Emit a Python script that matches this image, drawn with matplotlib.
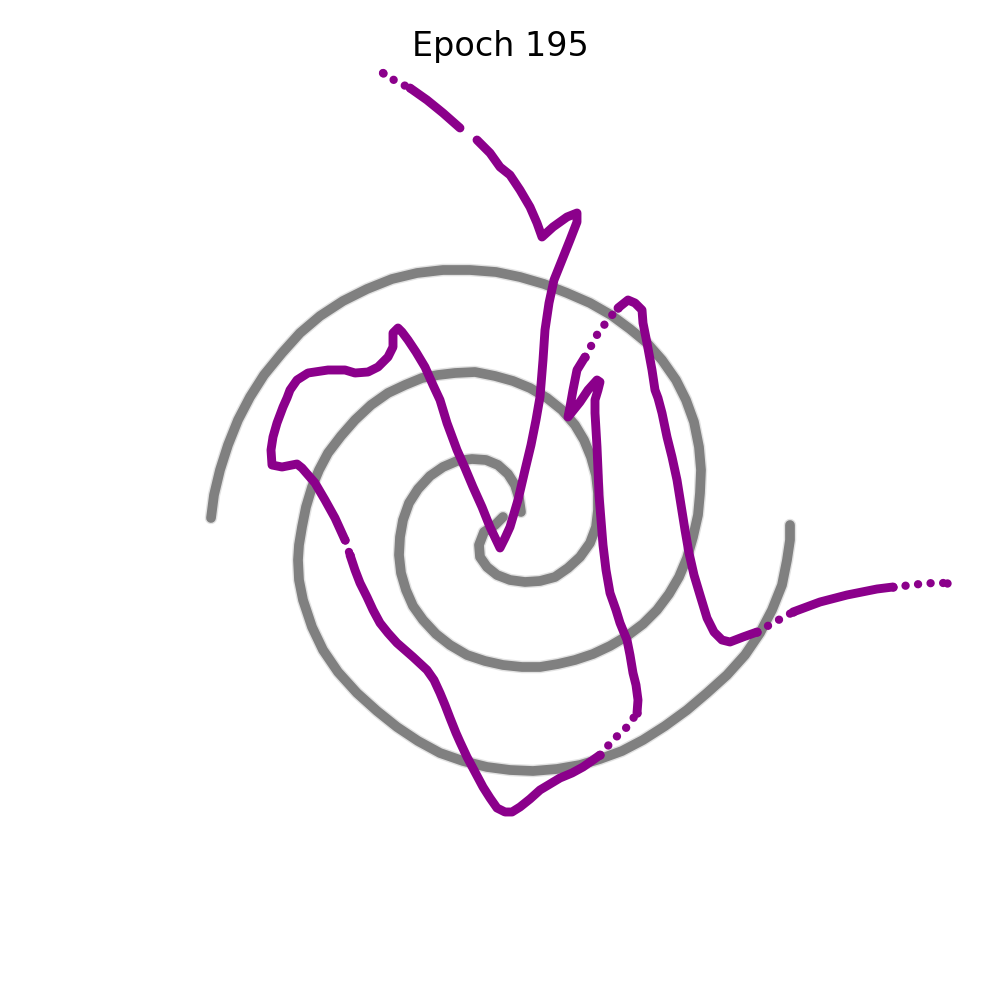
import matplotlib
matplotlib.use("Agg")
import matplotlib.pyplot as plt

# Coordinates (image-like units, y downward)
arm1_x = [503, 495, 484, 479, 480, 487, 497, 510, 525, 540, 555, 568, 580, 590, 596, 598, 598, 596, 591, 584,
          575, 562, 547, 530, 513, 495, 475, 455, 438, 422, 405, 388, 371, 355, 341, 328, 319, 312, 306, 302,
          299, 298, 299, 303, 312, 323, 338, 357, 377, 397, 418, 440, 463, 487, 510, 533, 557, 580, 600, 622,
          643, 665, 687, 707, 727, 745, 760, 772, 782, 787, 790, 790]
arm1_y = [517, 525, 532, 545, 557, 567, 575, 580, 582, 581, 577, 568, 557, 543, 527, 510, 493, 475, 457, 440,
          425, 410, 398, 388, 381, 376, 372, 373, 375, 378, 385, 393, 405, 420, 436, 453, 470, 487, 507, 527,
          545, 560, 580, 600, 627, 650, 672, 693, 711, 727, 741, 753, 761, 767, 770, 771, 769, 765, 759, 751,
          740, 726, 710, 693, 675, 655, 633, 610, 585, 560, 540, 525]

arm2_x = [521, 519, 515, 508, 498, 486, 472, 457, 443, 430, 418, 409, 403, 400, 399, 401, 406, 413, 423, 436,
          450, 467, 485, 503, 522, 540, 558, 575, 593, 610, 627, 643, 657, 669, 679, 687, 693, 698, 700, 701,
          699, 694, 686, 676, 662, 647, 630, 611, 590, 567, 544, 520, 496, 470, 443, 417, 392, 367, 343, 320,
          300, 282, 264, 250, 238, 228, 220, 214, 211]
arm2_y = [512, 498, 485, 474, 465, 460, 459, 461, 467, 476, 489, 503, 520, 537, 555, 573, 590, 606, 620, 634,
          645, 655, 661, 665, 667, 667, 664, 660, 654, 646, 636, 624, 610, 594, 577, 558, 537, 515, 493, 470,
          447, 422, 400, 380, 360, 343, 329, 315, 303, 293, 284, 277, 272, 270, 270, 273, 279, 289, 301, 316,
          333, 353, 375, 397, 420, 445, 470, 495, 518]

pred_x = [383, 397, 410, 427, 443, 460, 477, 490, 500, 510, 520, 530, 537, 542, 553, 567, 577, 577, 570, 562,
          554, 549, 545, 543, 540, 536, 531, 525, 518, 510, 505, 500, 490, 482, 473, 465, 457, 447, 440, 433,
          425, 416, 408, 402, 398, 393, 393, 388, 378, 368, 355, 345, 328, 308, 297, 290, 287, 283, 277, 273,
          271, 272, 282, 297, 302, 315, 325, 335, 345, 350, 355, 360, 367, 373, 380, 388, 397, 405, 413, 427,
          434, 440, 445, 450, 456, 460, 467, 475, 483, 490, 497, 505, 512, 520, 530, 540, 550, 560, 572, 583,
          593, 600, 613, 627, 637, 638, 636, 633, 630, 627, 620, 616, 610, 606, 603, 601, 599, 598, 597, 595,
          595, 598, 600, 597, 588, 580, 572, 568, 570, 573, 577, 585, 590, 598, 608, 618, 628, 635, 642, 643,
          647, 652, 655, 658, 662, 667, 672, 677, 681, 685, 689, 694, 700, 707, 714, 722, 730, 743, 757, 773,
          793, 820, 847, 877, 893, 903, 920, 933, 947]
pred_y = [73, 82, 88, 100, 113, 128, 140, 153, 167, 175, 190, 207, 223, 237, 227, 217, 213, 222, 240, 260,
          280, 303, 330, 360, 397, 420, 445, 470, 500, 527, 538, 548, 527, 507, 487, 468, 450, 423, 400, 385,
          367, 352, 340, 332, 328, 333, 347, 357, 367, 372, 373, 370, 370, 373, 380, 390, 398, 407, 423, 437,
          450, 465, 467, 464, 468, 483, 500, 518, 540, 555, 570, 583, 597, 610, 623, 633, 643, 650, 657, 670,
          680, 693, 705, 718, 733, 742, 757, 772, 787, 798, 808, 812, 812, 807, 799, 790, 784, 778, 773, 767,
          760, 755, 740, 727, 713, 700, 685, 673, 655, 640, 623, 610, 593, 570, 545, 520, 495, 470, 447, 413,
          400, 390, 382, 380, 390, 402, 412, 417, 407, 390, 370, 357, 348, 333, 320, 308, 300, 303, 310, 323,
          343, 370, 390, 398, 413, 437, 457, 480, 505, 530, 553, 575, 595, 618, 632, 640, 642, 637, 632, 623,
          612, 602, 595, 589, 587, 586, 584, 583, 583]

# index ranges of the predicted curve: densely sampled (solid) vs sparsely sampled (dotted)
solid_runs = [(2, 5), (6, 68), (69, 101), (104, 131), (135, 158), (160, 164)]
dotted_runs = [(0, 2), (68, 69), (101, 104), (131, 135), (158, 160), (164, 168)]

title = "Epoch 195"

fig = plt.figure(figsize=(10, 10), dpi=100)
ax = fig.add_axes([0, 0, 1, 1])
ax.set_xlim(0, 1000)
ax.set_ylim(1000, 0)
ax.axis("off")

for xs, ys in [(arm1_x, arm1_y), (arm2_x, arm2_y)]:
    ax.plot(xs, ys, color="#a0a0a0", lw=9.0, alpha=0.3, solid_capstyle="round", solid_joinstyle="round")
    ax.plot(xs, ys, color="#808080", lw=7.0, solid_capstyle="round", solid_joinstyle="round")

purple = "#8b008b"
for a, b in solid_runs:
    ax.plot(pred_x[a:b + 1], pred_y[a:b + 1], color=purple, lw=6.4,
            solid_capstyle="round", solid_joinstyle="round")
for a, b in dotted_runs:
    ax.plot(pred_x[a:b + 1], pred_y[a:b + 1], color=purple, lw=6.0,
            linestyle=(0, (0.01, 1.5)), dash_capstyle="round")
    ax.plot([pred_x[a], pred_x[b]], [pred_y[a], pred_y[b]], linestyle="none",
            marker="o", ms=6.0, mew=0, color=purple)

fig.text(0.5, 1 - 56 / 1000, title, ha="center", va="baseline", fontsize=24)

fig.savefig("out.png", dpi=100)
